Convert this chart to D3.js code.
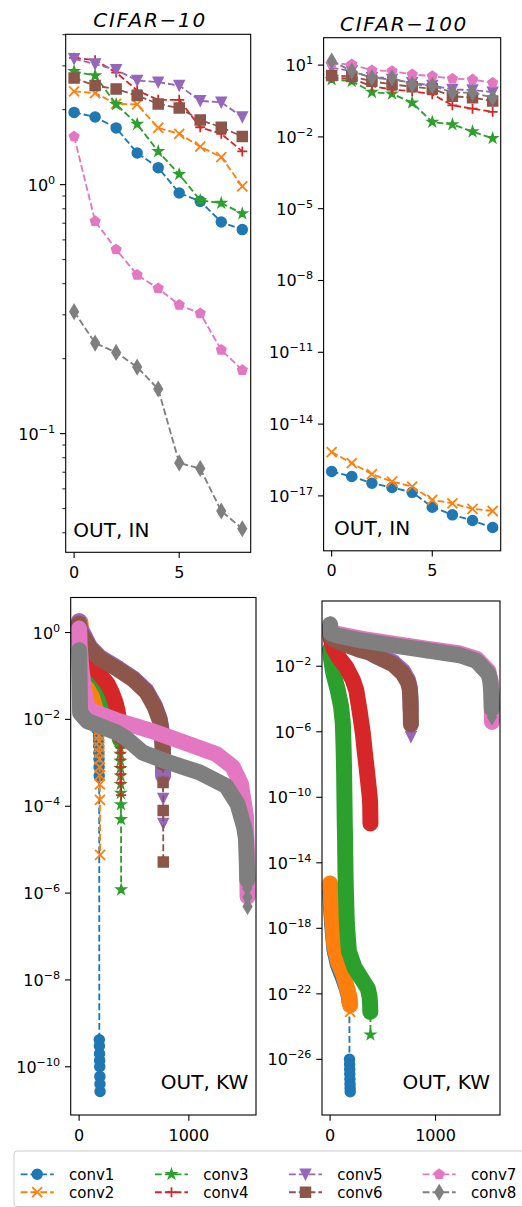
<!DOCTYPE html>
<html><head><meta charset="utf-8">
<script src="https://cdn.jsdelivr.net/npm/d3@7"></script>
<style>body{margin:0;background:#fff}svg{display:block}text{font-family:"DejaVu Sans",sans-serif;fill:#000}</style>
</head><body><svg id="c" width="522" height="1207"></svg>
<script>
// ---------- categories / styles ----------
const layers = ["conv1","conv2","conv3","conv4","conv5","conv6","conv7","conv8"];
const colors = ["#1f77b4","#ff7f0e","#2ca02c","#d62728","#9467bd","#8c564b","#e377c2","#7f7f7f"];
const markerTypes = ["o","x","*","+","v","s","p","d"];
const epochs = [0,1,2,3,4,5,6,7,8];

// ---------- top row: (OUT, IN) ----------
const in10_conv1 = [1.95,1.87,1.69,1.34,1.17,0.926,0.857,0.708,0.66];
const in10_conv2 = [2.37,2.33,2.11,2.10,1.69,1.60,1.42,1.29,0.985];
const in10_conv3 = [2.85,2.74,2.10,1.75,1.36,1.10,0.865,0.843,0.765];
const in10_conv4 = [3.23,3.16,2.82,2.39,2.19,2.19,1.70,1.60,1.36];
const in10_conv5 = [3.20,3.05,2.89,2.62,2.58,2.50,2.17,2.14,1.87];
const in10_conv6 = [2.68,2.50,2.42,2.28,2.11,2.03,1.82,1.70,1.56];
const in10_conv7 = [1.56,0.713,0.549,0.434,0.383,0.329,0.304,0.217,0.180];
const in10_conv8 = [0.309,0.231,0.212,0.185,0.151,0.0763,0.0724,0.0489,0.0415];

const in100_conv1 = [1.05e-16,6.46e-17,3.39e-17,2.24e-17,1.41e-17,3.39e-18,1.62e-18,9.33e-19,4.79e-19];
const in100_conv2 = [6.76e-16,2.34e-16,8.13e-17,3.98e-17,2.45e-17,6.76e-18,4.9e-18,2.88e-18,2.34e-18];
const in100_conv3 = [2.51,2.14,0.741,0.631,0.269,0.0417,0.0331,0.0166,0.0087];
const in100_conv4 = [2.95,2.69,1.32,0.955,0.813,0.603,0.209,0.151,0.112];
const in100_conv5 = [7.76,5.62,2.95,2.51,1.82,1.41,0.955,0.912,0.741];
const in100_conv6 = [3.72,3.31,2.14,1.55,1.26,1.02,0.501,0.437,0.316];
const in100_conv7 = [11.7,10.7,6.03,5.62,4.07,3.47,2.69,2.51,1.82];
const in100_conv8 = [14.8,5.62,2.95,2.95,1.55,1.41,0.708,0.708,0.437];

// ---------- bottom row: (OUT, KW), [index, value] ----------
const kw10_conv1 = [[0,1.6],[2,0.9],[5,0.45],[15,0.2],[40,0.12],[70,0.07],[100,0.035],[130,0.015],[150,0.0095],[165,0.0075],[175,0.0065],[176,5.6e-3],[177,4.2e-3],[178,3.2e-3],[179,2.4e-3],[180,1.7e-3],[181,1.2e-3],[182,8e-4],[183,5e-4],[184,4.2e-10],[185,3e-10],[186,2e-10],[187,1.4e-10],[188,1e-10],[189,6e-11],[190,4e-11],[191,2.7e-11]];
const kw10_conv2 = [[0,1.84],[12,1.75],[20,1.0],[30,0.45],[50,0.2],[80,0.1],[110,0.055],[135,0.03],[155,0.017],[170,0.011],[180,7e-3],[181,5.6e-3],[182,4.2e-3],[183,3.1e-3],[184,2.3e-3],[185,1.7e-3],[186,1.2e-3],[187,8e-4],[188,5.2e-4],[189,3.2e-4],[190,1.4e-4],[191,7.6e-6]];
const kw10_conv3 = [[0,1.0],[4,0.45],[20,0.22],[85,0.15],[190,0.087],[251,0.047],[296,0.02],[326,0.0095],[350,6e-3],[365,4.2e-3],[372,3.4e-3],[373,3e-3],[374,2.2e-3],[375,1.6e-3],[376,1.1e-3],[377,7.5e-4],[378,5e-4],[379,3.2e-4],[380,2e-4],[381,1.1e-4],[382,5e-5],[383,1.2e-6]];
const kw10_conv4 = [[0,1.2],[5,0.6],[30,0.3],[100,0.2],[200,0.1],[260,0.065],[300,0.04],[330,0.025],[350,0.016],[365,9e-3],[373,5.5e-3],[375,4e-3],[376,3e-3],[377,2.2e-3],[378,1.7e-3],[379,1.2e-3],[380,8e-4],[381,5.5e-4],[382,3.5e-4],[383,1.8e-4]];
const kw10_conv5 = [[0,1.8],[10,1.3],[100,0.46],[190,0.27],[341,0.16],[492,0.089],[613,0.046],[689,0.021],[734,0.0105],[755,5e-3],[762,2e-3],[765,5e-4],[766,1.5e-4],[767,4e-5]];
const kw10_conv6 = [[0,1.6],[10,1.05],[100,0.43],[190,0.25],[341,0.15],[492,0.083],[613,0.043],[689,0.0195],[734,0.0095],[755,4.5e-3],[762,2e-3],[764,1e-3],[765,3.5e-4],[766,8e-5],[767,5.2e-6]];
const kw10_conv7 = [[0,1.23],[5,0.5],[20,0.15],[50,0.04],[75,0.02],[100,0.016],[341,0.0095],[644,0.0056],[946,0.003],[1248,0.0016],[1399,8.1e-4],[1474,3.3e-4],[1520,5.8e-5],[1530,8e-6],[1535,8.3e-7]];
const kw10_conv8 = [[0,0.39],[3,0.15],[9,0.014],[75,0.0091],[190,0.0071],[341,0.005],[432,0.0036],[583,0.0017],[795,0.00107],[1097,6e-4],[1338,2.95e-4],[1444,1.12e-4],[1505,3.2e-5],[1520,1.8e-5],[1528,5e-6],[1532,2e-6],[1533,1.3e-6],[1534,8e-7],[1535,4.9e-7]];

const kw100_conv1 = [[0,1.78e-16],[3,6.3e-17],[10,1.26e-17],[25,6.3e-19],[41,5e-20],[73,6.3e-21],[121,1e-21],[159,2e-22],[180,6.3e-23],[183,3.16e-23],[184,1e-26],[185,5e-27],[186,2.5e-27],[187,1.26e-27],[188,6.3e-28],[189,3.16e-28],[190,1.78e-28],[191,1.07e-28]];
const kw100_conv2 = [[0,5.5e-16],[2,3.16e-16],[10,3.98e-17],[25,1.26e-18],[41,7.9e-20],[73,1e-20],[121,1.78e-21],[159,2.5e-22],[184,6.3e-23],[188,3.16e-23],[190,2e-23],[191,7.9e-24]];
const kw100_conv3 = [[0,0.112],[10,0.025],[32,3.5e-3],[73,3.5e-4],[105,3.3e-5],[121,3.16e-6],[126,3.16e-7],[130,3.16e-8],[133,3.16e-9],[135,3.16e-10],[137,3.16e-11],[139,3.16e-12],[142,3.16e-13],[144,3.16e-14],[146,3.16e-15],[150,2e-16],[159,2e-18],[178,4e-20],[232,4e-21],[311,6.3e-22],[359,2e-22],[375,6.3e-23],[380,2e-23],[382,7.9e-24],[383,3.16e-25]];
const kw100_conv4 = [[0,2.0],[5,0.5],[30,0.126],[89,0.0295],[152,9.1e-3],[216,1.41e-3],[248,3.5e-4],[279,2.1e-5],[311,7.9e-7],[327,7.9e-8],[349,4.5e-9],[365,5e-10],[375,1.26e-10],[380,4e-11],[383,2.5e-12]];
const kw100_conv5 = [[0,2.24],[5,1.0],[30,0.56],[121,0.3],[279,0.132],[375,0.089],[438,0.052],[597,0.0178],[692,5e-3],[740,1.41e-3],[756,5e-4],[762,1.26e-4],[765,2e-5],[766,4e-6],[767,4.9e-7]];
const kw100_conv6 = [[0,2.0],[5,0.79],[30,0.45],[121,0.24],[279,0.1],[375,0.068],[438,0.04],[597,0.0132],[692,3.5e-3],[740,1e-3],[756,4e-4],[762,1e-4],[765,1.6e-5],[767,2.8e-6]];
const kw100_conv7 = [[0,2.82],[5,1.26],[57,1.0],[279,0.5],[597,0.24],[914,0.12],[1232,0.06],[1390,0.028],[1502,5e-3],[1525,1e-3],[1532,1.6e-4],[1535,4e-6]];
const kw100_conv8 = [[0,3.6],[3,1.58],[10,1.0],[57,0.78],[279,0.39],[597,0.19],[914,0.095],[1232,0.047],[1390,0.021],[1502,3.5e-3],[1520,1.26e-3],[1528,3.16e-4],[1532,6.3e-5],[1534,2.5e-5],[1535,8.1e-6]];

// ---------- tick labels ----------
const xTicksIN = [0,5];
const xTicksKW = [0,1000];
const yExpTL = [0,-1];
const yExpTR = [1,-2,-5,-8,-11,-14,-17];
const yExpBL = [0,-2,-4,-6,-8,-10];
const yExpBR = [-2,-6,-10,-14,-18,-22,-26];

const toPairs = arr => arr.map((v,i)=>[epochs[i], v]);

const panels = [
  {id:"tl", series:[in10_conv1,in10_conv2,in10_conv3,in10_conv4,in10_conv5,in10_conv6,in10_conv7,in10_conv8].map(toPairs),
   box:{l:65.7,r:250.7,t:34.3,b:552.3}, xt:xTicksIN, yexp:yExpTL, minor:true,
   title:"CIFAR\u221210", titleX:93.3, titleY:27.3, label:"OUT, IN", labelAnchor:"start", labelX:73.3, labelY:536.7},
  {id:"tr", series:[in100_conv1,in100_conv2,in100_conv3,in100_conv4,in100_conv5,in100_conv6,in100_conv7,in100_conv8].map(toPairs),
   box:{l:323.6,r:500.7,t:37.7,b:550.8}, xt:xTicksIN, yexp:yExpTR, minor:false,
   title:"CIFAR\u2212100", titleX:340, titleY:30.7, label:"OUT, IN", labelAnchor:"start", labelX:334, labelY:535.2},
  {id:"bl", series:[kw10_conv1,kw10_conv2,kw10_conv3,kw10_conv4,kw10_conv5,kw10_conv6,kw10_conv7,kw10_conv8],
   box:{l:70.7,r:256,t:597.5,b:1115}, xt:xTicksKW, yexp:yExpBL, minor:false, dense:true,
   label:"OUT, KW", labelAnchor:"end", labelX:248.3, labelY:1089.3},
  {id:"br", series:[kw100_conv1,kw100_conv2,kw100_conv3,kw100_conv4,kw100_conv5,kw100_conv6,kw100_conv7,kw100_conv8],
   box:{l:322,r:500,t:601,b:1115}, xt:xTicksKW, yexp:yExpBR, minor:false, dense:true,
   label:"OUT, KW", labelAnchor:"end", labelX:490, labelY:1089.3}
];

const MS = 10, LW = 1.85, DASH = "6.8 3", BAND = 16, FS = 16;
function markerPath(t, ms){
  const r = ms/2;
  if (t==="o") return `M${r},0A${r},${r} 0 1,1 ${-r},0A${r},${r} 0 1,1 ${r},0Z`;
  if (t==="x") return `M${-r},${-r}L${r},${r}M${-r},${r}L${r},${-r}`;
  if (t==="+") return `M${-r},0L${r},0M0,${-r}L0,${r}`;
  if (t==="s") return `M${-r},${-r}h${ms}v${ms}h${-ms}Z`;
  if (t==="v") return `M0,${r}L${-r},${-r}L${r},${-r}Z`;
  if (t==="d"){ const hh=0.7071*ms, hw=0.6*hh; return `M0,${-hh}L${hw},0L0,${hh}L${-hw},0Z`; }
  if (t==="p"){ let s=""; for(let k=0;k<5;k++){const a=-Math.PI/2+k*2*Math.PI/5; s+=(k?"L":"M")+(r*Math.cos(a)).toFixed(3)+","+(r*Math.sin(a)).toFixed(3);} return s+"Z"; }
  if (t==="*"){ let s=""; for(let k=0;k<10;k++){const a=-Math.PI/2+k*Math.PI/5, rr=k%2?r*0.381966:r; s+=(k?"L":"M")+(rr*Math.cos(a)).toFixed(3)+","+(rr*Math.sin(a)).toFixed(3);} return s+"Z"; }
}
function styleMarker(sel, t, c){
  if (t==="x"||t==="+") sel.attr("fill","none").attr("stroke",c).attr("stroke-width",1.8);
  else sel.attr("fill",c).attr("stroke",c).attr("stroke-width",1.5).attr("stroke-linejoin","miter");
}

const svg = d3.select("#c");
const defs = svg.append("defs");

function tickLabel(g, x, y, e, anchor){
  const t = g.append("text").attr("x",x).attr("y",y).attr("text-anchor",anchor).attr("font-size",FS);
  t.append("tspan").text("10");
  t.append("tspan").attr("dy",-7).attr("font-size",11.2).text(e<0 ? "\u2212"+(-e) : String(e));
}

panels.forEach(p=>{
  const B = p.box;
  const all = p.series.flat();
  const [i0,i1] = d3.extent(all, d=>d[0]); const xm = 0.05*(i1-i0);
  const x = d3.scaleLinear().domain([i0-xm, i1+xm]).range([B.l, B.r]);
  const [l0,l1] = d3.extent(all, d=>Math.log10(d[1])); const ym = 0.05*(l1-l0);
  const y = d3.scaleLog().domain([Math.pow(10,l0-ym), Math.pow(10,l1+ym)]).range([B.b, B.t]);

  defs.append("clipPath").attr("id","clip-"+p.id).append("rect")
    .attr("x",B.l).attr("y",B.t).attr("width",B.r-B.l).attr("height",B.b-B.t);
  const g = svg.append("g");
  const plot = g.append("g").attr("clip-path",`url(#clip-${p.id})`);
  const line = d3.line().x(d=>x(d[0])).y(d=>y(d[1]));

  p.series.forEach((s,k)=>{
    const c = colors[k], mt = markerTypes[k];
    const sg = plot.append("g");
    sg.append("path").attr("d", line(s)).attr("fill","none").attr("stroke",c)
      .attr("stroke-width",LW).attr("stroke-dasharray",DASH);
    if (p.dense){
      // runs of read points that stand for many overlapping markers
      const runs = []; let cur = null;
      for (let j=1;j<s.length;j++){
        if (s[j][0]-s[j-1][0] > 1){ if(!cur){cur=[s[j-1]]; runs.push(cur);} cur.push(s[j]); }
        else cur = null;
      }
      runs.forEach(r=>sg.append("path").attr("d",line(r)).attr("fill","none").attr("stroke",c)
        .attr("stroke-width",BAND).attr("stroke-linecap","round").attr("stroke-linejoin","round"));
    }
    sg.selectAll("path.m").data(s).join("path").attr("class","m")
      .attr("transform",d=>`translate(${x(d[0])},${y(d[1])})`)
      .attr("d",markerPath(mt,MS)).call(styleMarker, mt, c);
  });

  g.append("rect").attr("x",B.l).attr("y",B.t).attr("width",B.r-B.l).attr("height",B.b-B.t)
    .attr("fill","none").attr("stroke","#000").attr("stroke-width",1.1);

  p.xt.forEach(v=>{
    g.append("line").attr("x1",x(v)).attr("x2",x(v)).attr("y1",B.b).attr("y2",B.b+5.7).attr("stroke","#000").attr("stroke-width",1.1);
    g.append("text").attr("x",x(v)).attr("y",B.b+25.5).attr("text-anchor","middle").attr("font-size",FS).text(v);
  });
  p.yexp.forEach(e=>{
    const yy = y(Math.pow(10,e));
    g.append("line").attr("x1",B.l-5.7).attr("x2",B.l).attr("y1",yy).attr("y2",yy).attr("stroke","#000").attr("stroke-width",1.1);
    tickLabel(g, B.l-10.5, yy+6, e, "end");
  });
  if (p.minor){
    y.ticks().filter(v=>Math.abs(Math.log10(v)-Math.round(Math.log10(v)))>1e-6).forEach(v=>{
      const yy = y(v);
      if (yy < B.t-0.5 || yy > B.b+0.5) return;
      g.append("line").attr("x1",B.l-3.3).attr("x2",B.l).attr("y1",yy).attr("y2",yy).attr("stroke","#000").attr("stroke-width",0.9);
    });
  }
  g.append("text").attr("x",p.labelX).attr("y",p.labelY).attr("text-anchor",p.labelAnchor).attr("font-size",20).text(p.label);
  if (p.title){
    g.append("text").attr("x",p.titleX).attr("y",p.titleY).attr("font-size",20).attr("font-style","italic")
      .attr("letter-spacing",1.7).text(p.title);
  }
});

// legend
const lg = svg.append("g");
lg.append("rect").attr("x",14).attr("y",1151).attr("width",540).attr("height",55.5).attr("rx",3)
  .attr("fill","#fff").attr("fill-opacity",0.8).attr("stroke","#cccccc").attr("stroke-width",1);
const colX = [20.7,155,289,422.7], rowY = [1174.3,1192.2];
layers.forEach((name,k)=>{
  const cx = colX[Math.floor(k/2)], cy = rowY[k%2];
  lg.append("line").attr("x1",cx).attr("x2",cx+33).attr("y1",cy).attr("y2",cy)
    .attr("stroke",colors[k]).attr("stroke-width",LW).attr("stroke-dasharray",DASH);
  lg.append("path").attr("transform",`translate(${cx+16.5},${cy})`).attr("d",markerPath(markerTypes[k],MS))
    .call(styleMarker, markerTypes[k], colors[k]);
  lg.append("text").attr("x",cx+48.3).attr("y",cy+5.5).attr("font-size",15).text(name);
});
</script></body></html>
